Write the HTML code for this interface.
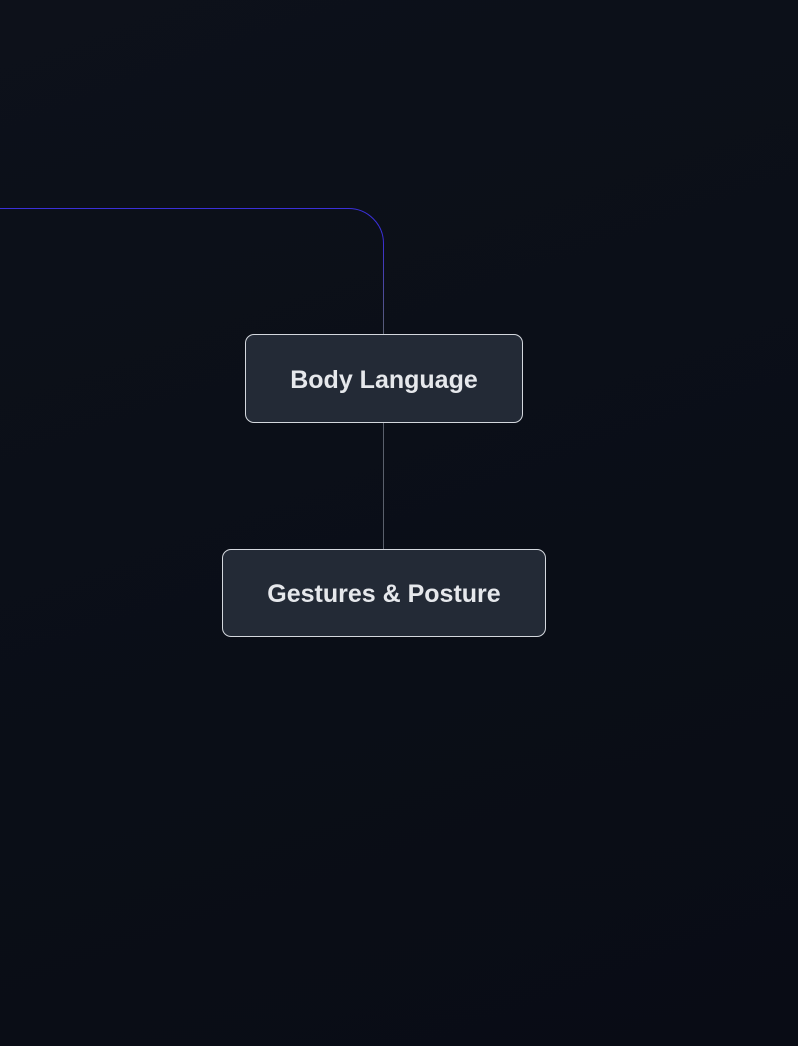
<!DOCTYPE html>
<html><head><meta charset="utf-8"><style>
html,body{margin:0;padding:0}
body{width:798px;height:1046px;background:linear-gradient(160deg,#0d111a 0%,#0a0e17 60%,#090c15 100%);overflow:hidden;position:relative;font-family:"Liberation Sans",sans-serif}
.n{position:absolute;box-sizing:border-box;background:#232a36;border:1px solid #d4d8de;border-radius:9px;color:#e6e8ec;font-weight:bold;font-size:25px;display:flex;align-items:center;justify-content:center;padding-top:3px}
</style></head><body>
<svg width="798" height="1046" style="position:absolute;left:0;top:0">
<defs><linearGradient id="g" gradientUnits="userSpaceOnUse" x1="0" y1="243" x2="0" y2="334">
<stop offset="0" stop-color="#3b30d0"/><stop offset="1" stop-color="#5a6070"/></linearGradient></defs>
<path d="M0 208.5 H348.5 A35 35 0 0 1 383.5 243.5" fill="none" stroke="#3b30d8" stroke-width="1"/>
<path d="M383.5 243 V335" fill="none" stroke="url(#g)" stroke-width="1"/>
<path d="M383.5 420 V549" stroke="#5a606c" stroke-width="1"/>
</svg>
<div class="n" style="left:245px;top:334px;width:278px;height:89px">Body Language</div>
<div class="n" style="left:222px;top:549px;width:324px;height:88px">Gestures &amp; Posture</div>
</body></html>
